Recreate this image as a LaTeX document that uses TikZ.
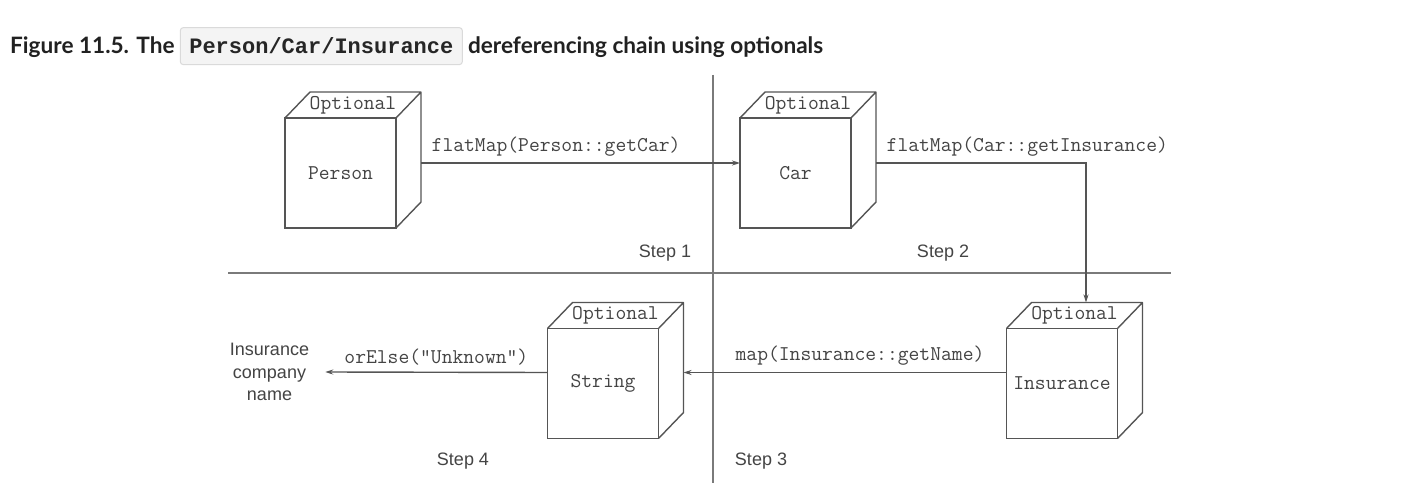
\documentclass[tikz,border=0pt]{standalone}
\usepackage{fontspec}
\setmainfont{Liberation Sans}
\newfontfamily\titlefont{Lato}
\newfontfamily\codefont{Liberation Mono}
\usetikzlibrary{ % tikz packages
    positioning,arrows.meta
}
\definecolor{lineg}{HTML}{555555}
\definecolor{textg}{HTML}{444444}
\definecolor{divg}{HTML}{7A7A7A}
\definecolor{codebg}{HTML}{F4F4F4}
\definecolor{codeframe}{HTML}{DADADA}
\tikzset{
    optbox/.style={draw=lineg, line width=1.4pt,
        minimum width=111pt, minimum height=110pt,
        inner sep=0pt, outer sep=0pt,
        font=\ttfamily\fontsize{21}{22}\selectfont, text=textg},
    boxedge/.style={draw=lineg, line width=1.4pt, line join=round},
    codelbl/.style={font=\ttfamily\fontsize{21}{22}\selectfont, text=textg, inner sep=2pt},
    steplbl/.style={font=\fontsize{18}{22.5}\selectfont, text=textg},
    titletext/.style={font=\titlefont\bfseries\fontsize{22.6}{26}\selectfont, text=black!87, inner sep=0pt},
    codebox/.style={fill=codebg, draw=codeframe, rounded corners=3pt, line width=1pt,
        font=\codefont\bfseries\fontsize{22}{24}\selectfont, text=black!85,
        inner xsep=9pt, minimum height=37pt},
    flow/.style={-{Stealth[length=8pt,width=5pt]}, draw=lineg, line width=1.4pt},
    divider/.style={draw=divg, line width=2pt}
}
\tikzset{>=stealth}

\begin{document}
\begin{tikzpicture}[x=1pt,y=-1pt]
    \useasboundingbox[fill=white] (0,0) rectangle (1404,502);

    % title
    \node[titletext, anchor=base west] (fig) at (10,54) {Figure 11.5. The};
    \node[codebox, base right=5pt of fig] (code) {Person/Car/Insurance};
    \node[titletext, base right=5pt of code] (rest) {dereferencing chain using optionals};

    % step dividers
    \draw[divider] (713,75) -- (713,483);
    \draw[divider] (228,273) -- (1171,273);

    % optional boxes
    \node[optbox] (person) at (340.5,173) {Person};
    \node[optbox, right=344pt of person] (car) {Car};
    \node[optbox] (ins) at (1062,383.5) {Insurance};
    \node[optbox, left=348pt of ins] (string) {String};

    \foreach \b in {person,car,string,ins}{
        \draw[boxedge] (\b.north west) -- ++(25,-26) -- ++(111,0) -- ++(0,110) -- (\b.south east)
            (\b.north east) -- ++(25,-26);
        \node[codelbl] (\b-opt) at ([xshift=12.5pt,yshift=13pt]\b.north) {Optional};
    }

    \node[steplbl, align=center, inner xsep=16pt] (result) at (269.5,372) {Insurance\\company\\name};

    % chain
    \draw[flow] ([xshift=25pt,yshift=10pt]person.east)
        -- node[codelbl, pos=0, above right, xshift=8pt, yshift=4pt] {flatMap(Person::getCar)}
        ([yshift=10pt]car.west);
    \draw[flow] ([xshift=25pt,yshift=10pt]car.east)
        -| node[codelbl, pos=0, above right, xshift=8pt, yshift=4pt] {flatMap(Car::getInsurance)}
        ([xshift=24pt,yshift=26pt]ins.north);
    \draw[flow] ([yshift=11pt]ins.west)
        -- node[codelbl, midway, above, xshift=15pt, yshift=4pt] {map(Insurance::getName)}
        ([xshift=25pt,yshift=11pt]string.east);
    \draw[flow] ([yshift=11pt]string.west)
        -- node[codelbl, midway, above, yshift=4pt] {orElse("Unknown")}
        (result.east);

    % steps
    \node[steplbl] (step1) at (665,253) {Step 1};
    \node[steplbl] (step2) at (943,253) {Step 2};
    \node[steplbl] (step3) at (761,461) {Step 3};
    \node[steplbl] (step4) at (463,461) {Step 4};
\end{tikzpicture}
\end{document}
